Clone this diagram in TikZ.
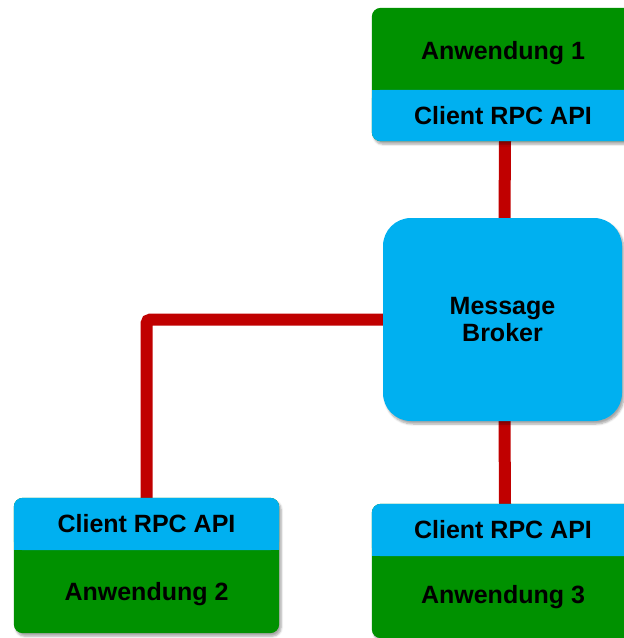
\documentclass[tikz,border=0pt]{standalone}
\usepackage{fontspec}
\setmainfont{Liberation Sans}
\usetikzlibrary{shadows.blur,calc}
\definecolor{appgreen}{RGB}{0,145,0}
\definecolor{apiblue}{RGB}{0,176,240}
\definecolor{linkred}{RGB}{192,0,0}
\pgfdeclarelayer{links}
\pgfdeclarelayer{fills}
\pgfsetlayers{links,fills,main}
\begin{document}
\begin{tikzpicture}[x=1pt,y=-1pt,
  lbl/.style={font=\fontsize{25}{27}\selectfont\bfseries, text=black, inner sep=0pt, align=center},
  link/.style={draw=linkred, line width=12pt},
  boxshadow/.style={blur shadow={shadow xshift=2pt, shadow yshift=-3pt, shadow blur steps=6, shadow opacity=35}}]
\useasboundingbox (0,0) rectangle (624,638);

% text nodes of the three application units
\node[lbl, minimum width=262pt, minimum height=82pt, text height=26pt, text depth=5pt] (app1) at (503,49) {Anwendung 1};
\node[lbl, minimum width=262pt, minimum height=51pt] (api1) at (503,115.5) {Client RPC API};

\node[lbl, minimum width=265pt, minimum height=52pt] (api2) at (146.5,524) {Client RPC API};
\node[lbl, minimum width=265pt, minimum height=83pt, text height=23pt, text depth=5pt] (app2) at (146.5,591.5) {Anwendung 2};

\node[lbl, minimum width=262pt, minimum height=52pt] (api3) at (503,530) {Client RPC API};
\node[lbl, minimum width=262pt, minimum height=82pt] (app3) at (503,597) {Anwendung 3};

% the broker in the middle
\node[lbl, minimum width=239pt, minimum height=203pt, fill=apiblue,
      rounded corners=28pt, boxshadow] (broker) at (502.5,319.5) {Message\\Broker};

% coloured bodies of the units
\begin{pgfonlayer}{fills}
  % unit 1: application above, API below
  \fill[appgreen, rounded corners=9pt, boxshadow] (app1.north west) rectangle (api1.south east);
  \fill[apiblue, rounded corners=9pt] (api1.north west) rectangle (api1.south east);
  \fill[apiblue] (api1.north west) rectangle (api1.east);
  % unit 2: API above, application below
  \fill[appgreen, rounded corners=9pt, boxshadow] (api2.north west) rectangle (app2.south east);
  \fill[apiblue, rounded corners=9pt] (api2.north west) rectangle (api2.south east);
  \fill[apiblue] (api2.west) rectangle (api2.south east);
  % unit 3: API above, application below
  \fill[appgreen, rounded corners=9pt, boxshadow] (api3.north west) rectangle (app3.south east);
  \fill[apiblue, rounded corners=9pt] (api3.north west) rectangle (api3.south east);
  \fill[apiblue] (api3.west) rectangle (api3.south east);
\end{pgfonlayer}

% connections to the broker
\begin{pgfonlayer}{links}
  \draw[link] ([xshift=2pt]api1.south) -- ([xshift=2pt]broker.north);
  \draw[link] ([xshift=2pt]broker.south) -- ([xshift=2pt]api3.north);
  \draw[link, rounded corners=4pt] (broker.west) -| (api2.north);
\end{pgfonlayer}
\end{tikzpicture}
\end{document}
